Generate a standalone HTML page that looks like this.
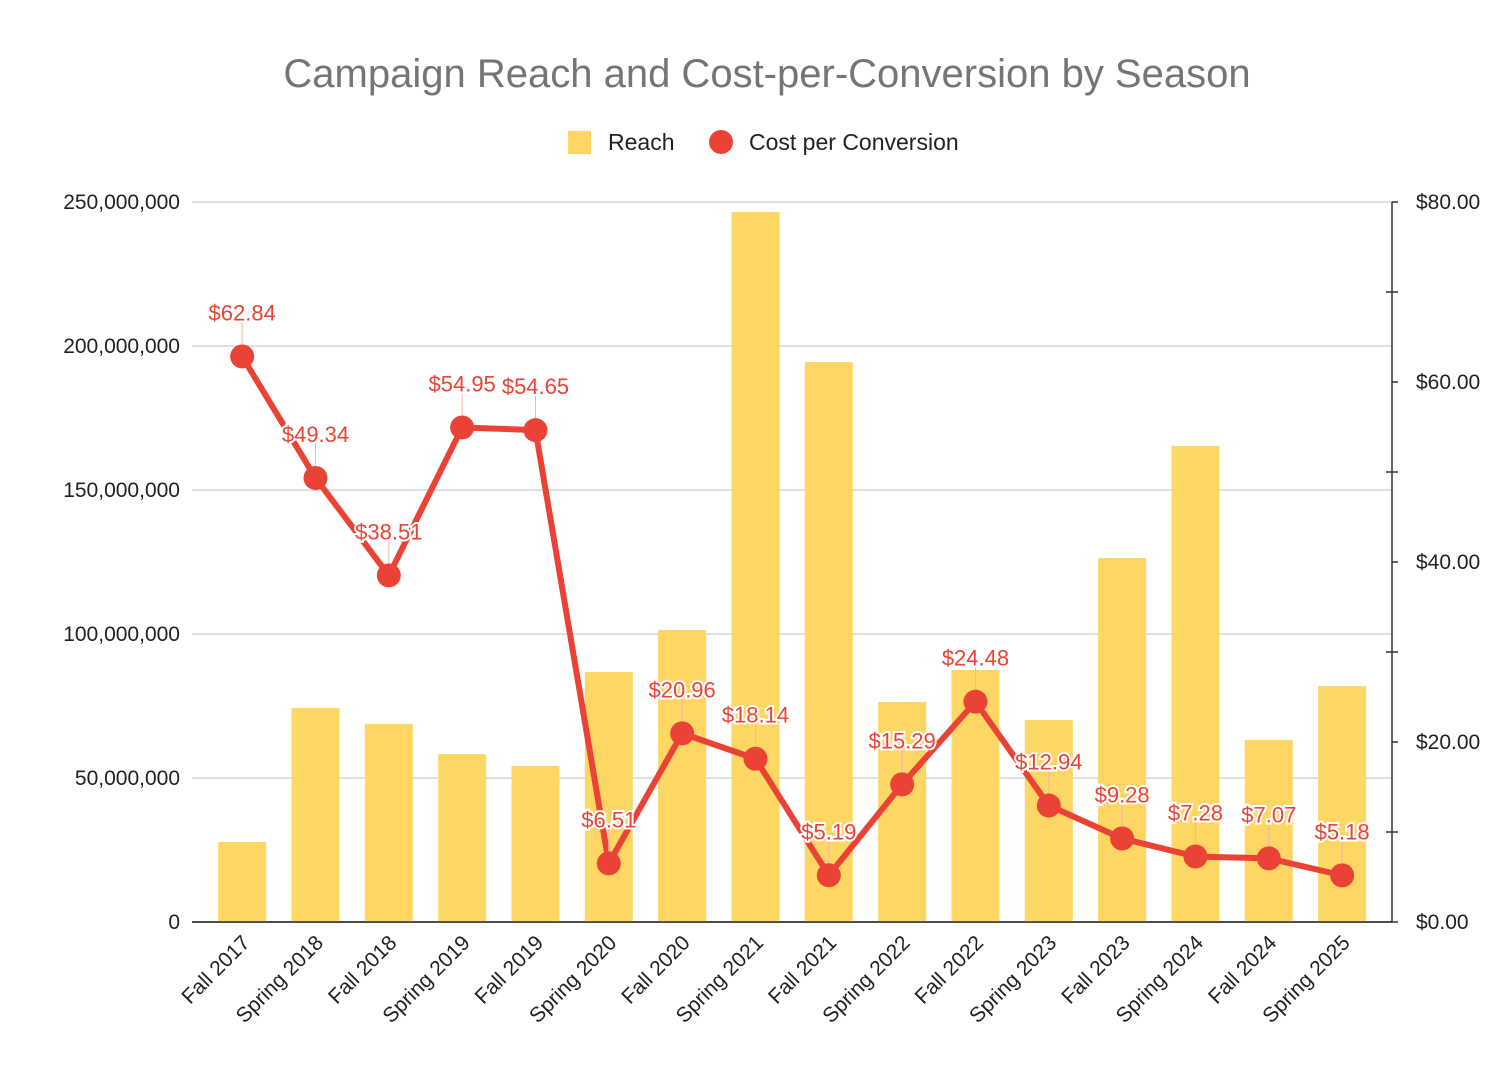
<!DOCTYPE html>
<html><head><meta charset="utf-8"><style>
body{margin:0;background:#fff;}
svg{display:block;font-family:"Liberation Sans",Arial,sans-serif;}
</style></head><body>
<svg id="chart" width="1510" height="1073">
<text x="767" y="87" text-anchor="middle" font-size="40" fill="#757575">Campaign Reach and Cost-per-Conversion by Season</text>
<g>
<rect x="568" y="131" width="23" height="23" fill="#fdd663"/>
<text x="608" y="150" font-size="23" fill="#222">Reach</text>
<circle cx="721" cy="142" r="12" fill="#ea4335"/>
<text x="749" y="150" font-size="23" fill="#222">Cost per Conversion</text>
</g>
<g id="plot"></g>
</svg>
<script>
const categories=["Fall 2017","Spring 2018","Fall 2018","Spring 2019","Fall 2019","Spring 2020","Fall 2020","Spring 2021","Fall 2021","Spring 2022","Fall 2022","Spring 2023","Fall 2023","Spring 2024","Fall 2024","Spring 2025"];
const reach=[27.8,74.3,68.8,58.3,54.2,86.8,101.4,246.5,194.4,76.4,87.5,70.1,126.4,165.3,63.2,81.9];
const cost=[62.84,49.34,38.51,54.95,54.65,6.51,20.96,18.14,5.19,15.29,24.48,12.94,9.28,7.28,7.07,5.18];
const leftTicks=[0,50,100,150,200,250];
const leftTickLabels=["0","50,000,000","100,000,000","150,000,000","200,000,000","250,000,000"];
const rightTicks=[0,20,40,60,80];
const rightTickLabels=["$0.00","$20.00","$40.00","$60.00","$80.00"];
const rightMinor=[10,30,50,70];

const X0=192,X1=1392,Y0=922,Y1=202,bandL=205.5,band=73.33;
const yL=v=>Y0-(v/250)*(Y0-Y1);
const yR=v=>Y0-(v/80)*(Y0-Y1);
const xC=i=>bandL+band*(i+0.5);
const NS="http://www.w3.org/2000/svg";
const g=document.getElementById('plot');
function mk(t,a,p){const e=document.createElementNS(NS,t);for(const k in a)e.setAttribute(k,a[k]);(p||g).appendChild(e);return e;}

leftTicks.forEach((v,i)=>{
 const l=mk('line',{x1:X0,x2:X1,y1:yL(v),y2:yL(v),stroke:v===0?'#333':'#ccc','stroke-width':v===0?1.5:1.2});
 
 
 const t=mk('text',{x:180,y:yL(v)+7,'text-anchor':'end','font-size':21,fill:'#222'});t.textContent=leftTickLabels[i];
 
 
});
const ax=mk('line',{x1:X1,x2:X1,y1:Y1,y2:Y0,stroke:'#333','stroke-width':1.5});


rightTicks.forEach((v,i)=>{
 mk('line',{x1:X1,x2:X1+6,y1:yR(v),y2:yR(v),stroke:'#333','stroke-width':1.5});
 const t=mk('text',{x:1416,y:yR(v)+7,'font-size':21,fill:'#222'});t.textContent=rightTickLabels[i];
 
 
});
rightMinor.forEach(v=>{
 const l=mk('line',{x1:X1-6,x2:X1+6,y1:yR(v),y2:yR(v),stroke:'#333','stroke-width':1.5});
 
 
});
reach.forEach((v,i)=>{
 const r=mk('rect',{x:xC(i)-24,y:yL(v),width:48,height:Y0-yL(v),fill:'#fdd663'});
 
 
});
mk('line',{x1:X0,x2:X1,y1:Y0,y2:Y0,stroke:'#333','stroke-width':1.5});
categories.forEach((c,i)=>{
 const t=mk('text',{x:0,y:0,'text-anchor':'end','font-size':21,fill:'#222',transform:`translate(${xC(i)+9},${Y0+22}) rotate(-45)`});
 t.textContent=c;
 
 
});
const line=mk('polyline',{points:cost.map((v,i)=>xC(i)+','+yR(v)).join(' '),fill:'none',stroke:'#ea4335','stroke-width':6,'stroke-linejoin':'round'});


cost.forEach((v,i)=>{
 mk('line',{x1:xC(i),x2:xC(i),y1:yR(v)-12,y2:yR(v)-36,stroke:'#f4b3ae','stroke-width':1});
 const c=mk('circle',{cx:xC(i),cy:yR(v),r:12,fill:'#ea4335'});
 
 
});
cost.forEach((v,i)=>{
 const t=mk('text',{x:xC(i),y:yR(v)-36,'text-anchor':'middle','font-size':22,fill:'#ea4335',stroke:'#fff','stroke-width':4,'paint-order':'stroke'});
 t.textContent='$'+v.toFixed(2);
 
 
});
</script>
</body></html>
